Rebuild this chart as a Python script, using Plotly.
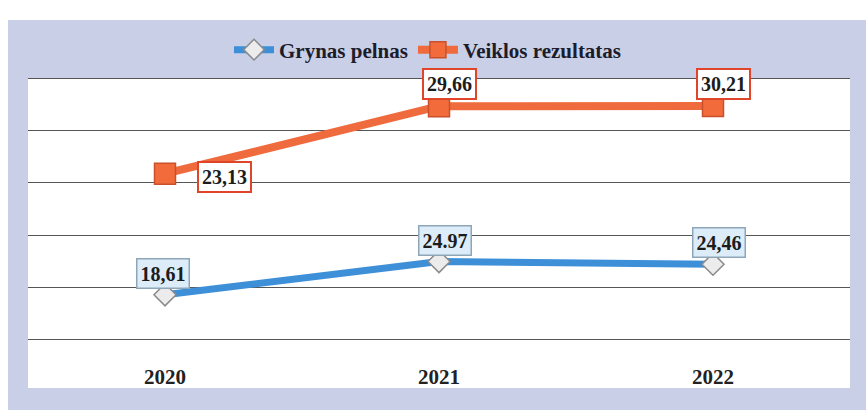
import plotly.graph_objects as go
import numpy as np

years = ["2020", "2021", "2022"]
grynas = [18.61, 24.97, 24.46]
veiklos = [23.13, 29.66, 30.21]
grynas_labels = ["18,61", "24.97", "24,46"]
veiklos_labels = ["23,13", "29,66", "30,21"]

g = np.array(grynas)
v_stacked = g + np.array(veiklos)

BLUE = "#3d8fd8"
ORANGE = "#ef6a3c"
FONT = "Liberation Serif"

fig = go.Figure()
fig.add_trace(go.Scatter(
    x=years, y=g, name="<b>Grynas pelnas</b>", mode="lines+markers",
    line=dict(color=BLUE, width=7),
    marker=dict(symbol="diamond", size=17, color="#ececec", line=dict(color="#8a8a8a", width=1.5)),
))
fig.add_trace(go.Scatter(
    x=years, y=v_stacked, name="<b>Veiklos rezultatas</b>", mode="lines+markers",
    line=dict(color=ORANGE, width=8),
    marker=dict(symbol="square", size=21, color="#f26b3a", line=dict(color="#c9502b", width=1.5)),
))

# data labels (x given as category index)
for i in range(len(years)):
    fig.add_annotation(x=i, y=float(g[i]), text="<b>" + grynas_labels[i] + "</b>", showarrow=False,
                       yanchor="bottom", yshift=6, xshift=-2 if i == 0 else 6,
                       font=dict(family=FONT, size=20, color="#1c1c1c"),
                       bgcolor="#dcedf9", bordercolor="#8fa6b8", borderwidth=1.5, borderpad=3)
for i in range(len(years)):
    if i == 0:
        fig.add_annotation(x=i, y=float(v_stacked[i]), text="<b>" + veiklos_labels[i] + "</b>", showarrow=False,
                           xanchor="left", xshift=32, yshift=-3,
                           font=dict(family=FONT, size=20, color="#1c1c1c"),
                           bgcolor="white", bordercolor="#e0452a", borderwidth=2, borderpad=3)
    else:
        fig.add_annotation(x=i, y=float(v_stacked[i]), text="<b>" + veiklos_labels[i] + "</b>", showarrow=False,
                           yanchor="bottom", yshift=6, xshift=10,
                           font=dict(family=FONT, size=20, color="#1c1c1c"),
                           bgcolor="white", bordercolor="#e0452a", borderwidth=2, borderpad=3)

W, H = 868, 417
L, R, T, B = 28, 18, 76, 75
pw, ph = W - L - R, H - T - B

def px_x(p):
    return (p - L) / pw

def px_y(p):
    return (H - B - p) / ph

fig.add_shape(type="rect", xref="paper", yref="paper",
              x0=px_x(8), x1=px_x(866), y0=px_y(410), y1=px_y(20),
              fillcolor="#c8cfe6", line=dict(width=0), layer="below")
fig.add_shape(type="rect", xref="paper", yref="paper",
              x0=0, x1=1, y0=px_y(388), y1=px_y(78),
              fillcolor="white", line=dict(width=0), layer="below")

fig.update_layout(
    width=W, height=H,
    margin=dict(l=L, r=R, t=T, b=B),
    paper_bgcolor="white",
    plot_bgcolor="rgba(0,0,0,0)",
    showlegend=True,
    legend=dict(orientation="h", x=px_x(428), xanchor="center", y=px_y(50), yanchor="middle",
                font=dict(family=FONT, size=21, color="#1c1c2a"), bgcolor="rgba(0,0,0,0)",
                itemwidth=40),
    xaxis=dict(type="category", range=[-0.5, 2.5], showgrid=False, showline=False, zeroline=False,
               ticks="", ticklabelstandoff=20,
               tickfont=dict(family=FONT, size=21, color="#222222")),
    yaxis=dict(range=[9.6, 60.4], tickvals=[10, 20, 30, 40, 50, 60], showgrid=True,
               gridcolor="#555555", gridwidth=1,
               showticklabels=False, zeroline=False, showline=False, ticks=""),
)
fig.update_xaxes(tickprefix="<b>", ticksuffix="</b>")

fig.write_html("out.html", config={"displayModeBar": False},
               post_script="document.body.style.margin='0';")
